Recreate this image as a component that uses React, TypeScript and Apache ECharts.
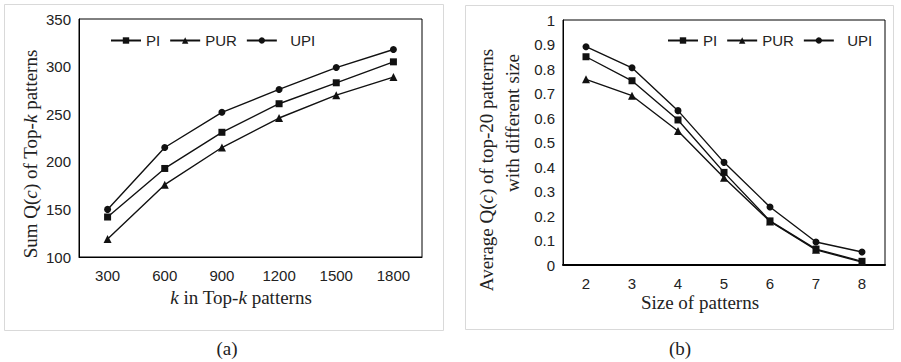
import React, { useEffect, useRef } from "react";
import * as echarts from "echarts";

const kCategories = ["300", "600", "900", "1200", "1500", "1800"];
const kPI = [142, 193, 231, 261, 283, 305];
const kPUR = [119, 176, 215, 246, 270, 289];
const kUPI = [150, 215, 252, 276, 299, 318];

const sizeCategories = ["2", "3", "4", "5", "6", "7", "8"];
const sPI = [0.85, 0.752, 0.592, 0.378, 0.18, 0.065, 0.015];
const sPUR = [0.758, 0.691, 0.547, 0.356, 0.178, 0.062, 0.012];
const sUPI = [0.891, 0.805, 0.63, 0.419, 0.237, 0.094, 0.053];

const seriesNames = ["PI", "PUR", "UPI"];
const symbols = ["rect", "triangle", "circle"];

const SANS = "Liberation Sans";
const SERIF = "Liberation Serif";
const SERIF_FONT = `19px "Liberation Serif", serif`;

export default function App() {
  const ref = useRef<HTMLDivElement>(null);
  useEffect(() => {
    if (!ref.current) return;
    const chart = echarts.init(ref.current, undefined, { renderer: "svg" });
    const mkSeries = (data: number[], idx: number, axis: number) => ({
      type: "line",
      name: seriesNames[idx],
      xAxisIndex: axis,
      yAxisIndex: axis,
      data,
      symbol: symbols[idx],
      symbolSize: idx === 1 ? 8 : 7,
      lineStyle: { color: "#111", width: 1.4 },
      itemStyle: { color: "#111" },
      showSymbol: true,
    });
    const legendCommon = {
      data: seriesNames,
      padding: 0,
      itemWidth: 30,
      itemHeight: 8,
      itemGap: 9,
      textStyle: { fontFamily: SANS, fontSize: 15, color: "#222" },
      formatter: (n: string) => (n === "UPI" ? "  UPI" : n),
      selectedMode: false,
    };
    const axisLabel = { fontFamily: SANS, fontSize: 15, color: "#222" };
    const italic = { i: { fontStyle: "italic", fontFamily: SERIF, fontSize: 19, fill: "#222" } };
    chart.setOption({
      animation: false,
      backgroundColor: "#fff",
      grid: [
        { left: 79, top: 19, width: 343, height: 238, show: true, borderColor: "#000", borderWidth: 1, backgroundColor: "transparent" },
        { left: 563, top: 20, width: 322, height: 245, show: true, borderColor: "#000", borderWidth: 1, backgroundColor: "transparent" },
      ],
      legend: [
        { ...legendCommon, left: 110, top: 33 },
        { ...legendCommon, left: 667, top: 33 },
      ],
      xAxis: [
        {
          type: "category", gridIndex: 0, data: kCategories, boundaryGap: true,
          axisLine: { lineStyle: { color: "#000", width: 1 } },
          axisTick: { show: false },
          axisLabel: { ...axisLabel, margin: 11 },
        },
        {
          type: "category", gridIndex: 1, data: sizeCategories, boundaryGap: true,
          axisLine: { lineStyle: { color: "#000", width: 2 } },
          axisTick: { show: false },
          axisLabel: { ...axisLabel, margin: 11 },
        },
      ],
      yAxis: [
        {
          type: "value", gridIndex: 0, min: 100, max: 350, interval: 50,
          axisLine: { show: true, lineStyle: { color: "#000" } },
          axisTick: { show: false },
          splitLine: { show: false },
          axisLabel: { ...axisLabel, margin: 8 },
        },
        {
          type: "value", gridIndex: 1, min: 0, max: 1, interval: 0.1,
          axisLine: { show: true, lineStyle: { color: "#000" } },
          axisTick: { show: false },
          splitLine: { show: false },
          axisLabel: { ...axisLabel, margin: 8 },
        },
      ],
      series: [
        mkSeries(kPI, 0, 0),
        mkSeries(kPUR, 1, 0),
        mkSeries(kUPI, 2, 0),
        mkSeries(sPI, 0, 1),
        mkSeries(sPUR, 1, 1),
        mkSeries(sUPI, 2, 1),
      ],
      graphic: [
        { type: "rect", z: -1, shape: { x: 4.5, y: 4.5, width: 439, height: 326 }, style: { fill: "none", stroke: "#d9d9d9", lineWidth: 1 } },
        { type: "rect", z: -1, shape: { x: 465.5, y: 5.5, width: 428, height: 324 }, style: { fill: "none", stroke: "#d9d9d9", lineWidth: 1 } },
        {
          type: "text", x: 30, y: 154, rotation: Math.PI / 2,
          style: {
            text: "Sum Q({i|c}) of Top-{i|k} patterns",
            rich: italic,
            font: SERIF_FONT, fill: "#222", align: "center", verticalAlign: "middle",
          },
        },
        {
          type: "text", x: 241, y: 297,
          style: {
            text: "{i|k} in Top-{i|k} patterns",
            rich: italic,
            font: SERIF_FONT, fill: "#222", align: "center", verticalAlign: "middle",
          },
        },
        {
          type: "text", x: 486, y: 170, rotation: Math.PI / 2,
          style: {
            text: "Average Q({i|c}) of top-20 patterns",
            rich: italic,
            font: SERIF_FONT, fill: "#222", align: "center", verticalAlign: "middle",
          },
        },
        {
          type: "text", x: 512, y: 123, rotation: Math.PI / 2,
          style: {
            text: "with different size",
            font: SERIF_FONT, fill: "#222", align: "center", verticalAlign: "middle",
          },
        },
        {
          type: "text", x: 700, y: 302,
          style: { text: "Size of patterns", font: SERIF_FONT, fill: "#222", align: "center", verticalAlign: "middle" },
        },
        {
          type: "text", x: 227, y: 348,
          style: { text: "(a)", font: SERIF_FONT, fill: "#222", align: "center", verticalAlign: "middle" },
        },
        {
          type: "text", x: 680, y: 348,
          style: { text: "(b)", font: SERIF_FONT, fill: "#222", align: "center", verticalAlign: "middle" },
        },
      ],
    });
    return () => chart.dispose();
  }, []);
  return <div ref={ref} style={{ width: 901, height: 362, position: "absolute", left: 0, top: 0 }} />;
}
